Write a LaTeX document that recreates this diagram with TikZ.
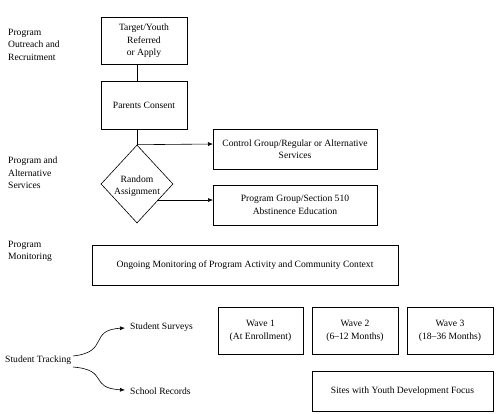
\documentclass[tikz,border=0pt]{standalone}
\usepackage{fontspec}
\setmainfont{Liberation Serif}
\usetikzlibrary{arrows.meta,shapes.geometric}
\begin{document}
\begin{tikzpicture}[x=1pt,y=-1pt,
  every node/.style={font=\fontsize{9.6}{12.5}\selectfont, inner sep=0pt},
  box/.style={draw, line width=0.6pt},
  lbl/.style={anchor=north west, align=left},
  arr/.style={-{Latex[length=5pt,width=4pt]}, line width=0.6pt},
  ln/.style={line width=0.6pt}]
\useasboundingbox (0,0) rectangle (497,413);
% boxes
\draw[box] (101,17) rectangle (187,64);
\node[align=center] (target) at (144,41) {Target/Youth\\Referred\\or Apply};
\coordinate (tb) at (137,64);
\draw[box] (101,81) rectangle (187,129);
\node (parents) at (144,105) {Parents Consent};
\coordinate (pt) at (137,81);
\coordinate (pb) at (137,129);
\draw[ln] (tb) -- (pt);
\node[draw, diamond, line width=0.6pt, minimum width=72pt, minimum height=78pt, align=center, aspect=0.92] (rand) at (137,184) {};
\node[align=center] at (137,186) {Random\\Assignment};
\draw[box] (213,129) rectangle (377,169);
\node[align=center] (control) at (295,149) {Control Group/Regular or Alternative\\Services};
\coordinate (cw) at (213,144);
\draw[box] (213,185) rectangle (377,225);
\node[align=center] (program) at (295,205) {Program Group/Section 510\\Abstinence Education};
\coordinate (gw) at (213,200);
\coordinate (rd) at (157,200);
\draw[ln] (pb) -- (rand.north);
\draw[arr] (rand.north) -- (cw);
\draw[arr] (rd) -- (gw);
\draw[box] (92,245) rectangle (398,285);
\node (monitor) at (245,265) {Ongoing Monitoring of Program Activity and Community Context};
% waves
\draw[box] (218,307) rectangle (303,354);
\node[align=center] (w1) at (260.5,331) {Wave 1\\(At Enrollment)};
\draw[box] (312,307) rectangle (398,354);
\node[align=center] (w2) at (355,331) {Wave 2\\(6--12 Months)};
\draw[box] (407,307) rectangle (493,354);
\node[align=center] (w3) at (450,331) {Wave 3\\(18--36 Months)};
\draw[box] (312,371) rectangle (493,411);
\node (sites) at (402.5,391) {Sites with Youth Development Focus};
% left labels
\node[lbl] (l1) at (8,29) {Program\\Outreach and\\Recruitment};
\node[lbl] (l2) at (8,157) {Program and\\Alternative\\Services};
\node[lbl] (l3) at (8,241) {Program\\Monitoring};
\node[anchor=west] (st) at (5,360) {Student Tracking};
\node[anchor=west] (sv) at (130,327) {Student Surveys};
\node[anchor=west] (sr) at (130,391) {School Records};
\coordinate (s1) at (73,356);
\coordinate (s2) at (73,367);
\coordinate (e1) at (125,328);
\coordinate (e2) at (125,390);
\draw[arr] (s1) .. controls (110,352) and (88,330) .. (e1);
\draw[arr] (s2) .. controls (110,370) and (88,388) .. (e2);
\end{tikzpicture}
\end{document}
